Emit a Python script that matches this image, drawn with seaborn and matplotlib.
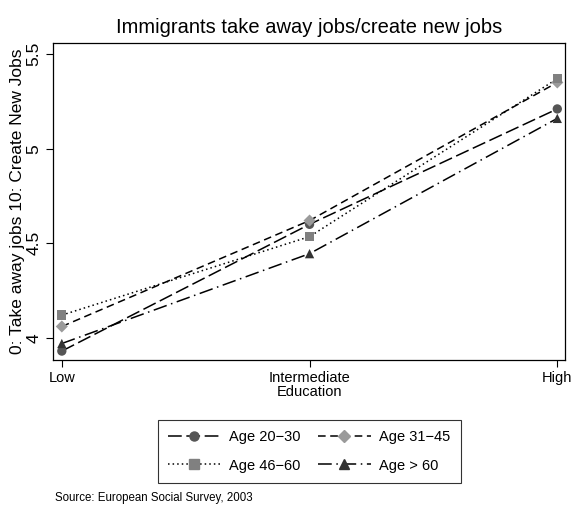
#!/usr/bin/env python3
"""Immigrants take away jobs / create new jobs, by age and education."""

import matplotlib
matplotlib.use("Agg")
import matplotlib.pyplot as plt
from matplotlib.lines import Line2D
import pandas as pd
import seaborn as sns

EDUCATION = ["Low", "Intermediate", "High"]
AGE_GROUPS = ["Age 20\u221230", "Age 31\u221245", "Age 46\u221260", "Age > 60"]

AGE_20_30 = [3.93, 4.60, 5.21]
AGE_31_45 = [4.06, 4.62, 5.35]
AGE_46_60 = [4.12, 4.535, 5.37]
AGE_60_UP = [3.97, 4.445, 5.16]

LINE_DASHES = {
    AGE_GROUPS[0]: (9, 3),
    AGE_GROUPS[1]: (5, 3),
    AGE_GROUPS[2]: (1, 2),
    AGE_GROUPS[3]: (9, 3, 1, 3),
}
MARKERS = {
    AGE_GROUPS[0]: "o",
    AGE_GROUPS[1]: "D",
    AGE_GROUPS[2]: "s",
    AGE_GROUPS[3]: "^",
}
MARKER_COLORS = {
    AGE_GROUPS[0]: "#555555",
    AGE_GROUPS[1]: "#9a9a9a",
    AGE_GROUPS[2]: "#808080",
    AGE_GROUPS[3]: "#333333",
}


def main():
    sns.set_style("white")
    plt.rcParams["font.family"] = ["Liberation Sans", "DejaVu Sans"]
    plt.rcParams["text.color"] = "black"
    plt.rcParams["axes.labelcolor"] = "black"
    plt.rcParams["xtick.color"] = "black"
    plt.rcParams["ytick.color"] = "black"

    rows = []
    for group, values in zip(AGE_GROUPS, [AGE_20_30, AGE_31_45, AGE_46_60, AGE_60_UP]):
        for i, v in enumerate(values):
            rows.append({"edu": i, "value": v, "group": group})
    df = pd.DataFrame(rows)

    fig = plt.figure(figsize=(5.75, 5.07), dpi=100)
    ax = fig.add_axes([0.092, 0.290, 0.891, 0.625])

    sns.lineplot(
        data=df, x="edu", y="value", hue="group", style="group",
        palette={g: "black" for g in AGE_GROUPS}, dashes=LINE_DASHES,
        linewidth=1.1, legend=False, ax=ax,
    )
    for g in AGE_GROUPS:
        sub = df[df["group"] == g]
        sns.scatterplot(
            data=sub, x="edu", y="value", marker=MARKERS[g],
            color=MARKER_COLORS[g], s=45 if g != AGE_GROUPS[1] else 38,
            edgecolor="none", legend=False, ax=ax, zorder=3,
        )

    ax.set_xlim(-0.036, 2.032)
    ax.set_ylim(3.883, 5.558)
    ax.set_xticks([0, 1, 2])
    ax.set_xticklabels(EDUCATION, fontsize=10.5)
    ax.set_yticks([4, 4.5, 5, 5.5])
    ax.set_yticklabels(["4", "4.5", "5", "5.5"], fontsize=12.5, rotation=90, va="center")
    ax.tick_params(axis="both", length=5, width=0.8, color="black", direction="out",
                   bottom=True, left=True, pad=3)
    for s in ax.spines.values():
        s.set_color("black")
        s.set_linewidth(0.9)

    ax.set_xlabel("Education", fontsize=10.5, labelpad=0)
    ax.set_ylabel("0: Take away jobs 10: Create New Jobs", fontsize=12.5, labelpad=1)
    ax.set_title("Immigrants take away jobs/create new jobs", fontsize=14.5, pad=7)

    # matplotlib fills legend columns first, so reorder to get row-wise layout
    order = [0, 2, 1, 3]
    handles = [
        Line2D([0], [0], color="black", linewidth=1.1, dashes=LINE_DASHES[AGE_GROUPS[i]],
               marker=MARKERS[AGE_GROUPS[i]], markerfacecolor=MARKER_COLORS[AGE_GROUPS[i]],
               markeredgecolor=MARKER_COLORS[AGE_GROUPS[i]], markersize=6.5)
        for i in order
    ]
    leg = fig.legend(
        handles, [AGE_GROUPS[i] for i in order], ncol=2, loc="center",
        bbox_to_anchor=(0.538, 0.110),
        fontsize=10.5, frameon=True, fancybox=False, edgecolor="black",
        handlelength=3.6, columnspacing=1.2, handletextpad=0.6,
        borderpad=0.7, labelspacing=1.0,
    )
    leg.get_frame().set_linewidth(0.8)

    fig.text(0.096, 0.012, "Source: European Social Survey, 2003", fontsize=8.3)

    fig.savefig("out.png", dpi=100, facecolor="white")
    plt.close(fig)


if __name__ == "__main__":
    main()
